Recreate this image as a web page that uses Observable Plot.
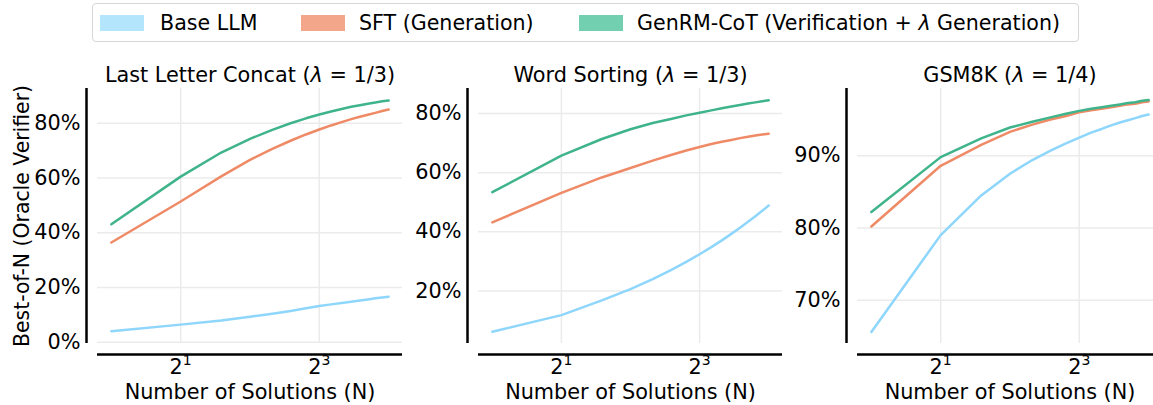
<!DOCTYPE html>
<html>
<head>
<meta charset="utf-8">
<script src="https://cdn.jsdelivr.net/npm/d3@7"></script>
<script src="https://cdn.jsdelivr.net/npm/@observablehq/plot@0.6"></script>
<style>
  body { margin: 0; background: #fff; }
  #root { position: relative; width: 1153px; height: 405px; overflow: hidden; font-family: "DejaVu Sans", sans-serif; color: #000; }
  #root svg { position: absolute; top: 0; overflow: visible; }
  .legend { position: absolute; left: 92px; top: 3px; width: 985px; height: 37px; border: 1px solid #d6d6d6; border-radius: 4px; background: #fff; }
  .patch { position: absolute; top: 11px; width: 44px; height: 16px; }
  .ltext { position: absolute; top: 9px; font-size: 20.6px; line-height: 20px; white-space: nowrap; }
</style>
</head>
<body>
<div id="root"></div>
<script>
// ---- data ----
const N = [1, 2, 3, 4, 5, 6, 7, 8, 9, 10, 11, 12, 13, 14, 15, 16];
const seriesNames = ["Base LLM", "SFT (Generation)", "GenRM-CoT (Verification + λ Generation)"];
const lineColors = ["#8ed6fb", "#ef8a66", "#3fb48b"];
const patchColors = ["#b3e5fc", "#f4a68b", "#72cfb0"];

const lastLetterBase  = [4.0, 6.4, 7.9, 9.3, 10.4, 11.4, 12.4, 13.2, 13.8, 14.3, 14.8, 15.2, 15.6, 16.0, 16.3, 16.6];
const lastLetterSFT   = [36.4, 51.4, 60.6, 66.6, 70.6, 73.6, 75.9, 77.7, 79.2, 80.4, 81.5, 82.4, 83.1, 83.8, 84.5, 85.0];
const lastLetterGenRM = [43.1, 60.5, 69.3, 74.3, 77.6, 80.0, 81.8, 83.2, 84.3, 85.2, 86.0, 86.6, 87.1, 87.6, 88.0, 88.3];

const wordSortBase  = [6.2, 11.8, 16.8, 20.6, 24.0, 27.0, 29.8, 32.4, 34.8, 37.1, 39.3, 41.4, 43.4, 45.3, 47.1, 48.9];
const wordSortSFT   = [43.2, 53.2, 58.4, 61.6, 64.1, 66.0, 67.5, 68.7, 69.7, 70.5, 71.1, 71.7, 72.2, 72.6, 72.9, 73.2];
const wordSortGenRM = [53.4, 65.8, 71.4, 74.7, 76.8, 78.2, 79.4, 80.3, 81.1, 81.8, 82.4, 82.9, 83.4, 83.8, 84.2, 84.5];

const gsmBase  = [65.6, 79.0, 84.5, 87.5, 89.4, 90.7, 91.7, 92.5, 93.2, 93.7, 94.2, 94.6, 94.9, 95.2, 95.5, 95.7];
const gsmSFT   = [80.2, 88.6, 91.5, 93.3, 94.3, 95.0, 95.5, 96.0, 96.3, 96.5, 96.7, 96.9, 97.1, 97.2, 97.4, 97.5];
const gsmGenRM = [82.2, 89.8, 92.4, 93.9, 94.7, 95.3, 95.8, 96.2, 96.5, 96.7, 96.9, 97.1, 97.3, 97.4, 97.6, 97.7];

const xTicks = [2, 8];
const xLabel = "Number of Solutions (N)";
const yLabel = "Best-of-N (Oracle Verifier)";

const panels = [
  { title: "Last Letter Concat (λ = 1/3)", series: [lastLetterBase, lastLetterSFT, lastLetterGenRM],
    yDomain: [-0.5, 92.7], yTicks: [0, 20, 40, 60, 80], left: 0, width: 410, marginLeft: 97, showYLabel: true },
  { title: "Word Sorting (λ = 1/3)", series: [wordSortBase, wordSortSFT, wordSortGenRM],
    yDomain: [2.2, 88.5], yTicks: [20, 40, 60, 80], left: 410, width: 380, marginLeft: 68 },
  { title: "GSM8K (λ = 1/4)", series: [gsmBase, gsmSFT, gsmGenRM],
    yDomain: [64.0, 99.3], yTicks: [70, 80, 90], left: 790, width: 380, marginLeft: 67 }
];

const root = document.getElementById("root");

// legend
const legend = document.createElement("div");
legend.className = "legend";
root.appendChild(legend);
const patchX = [7, 208, 486];
const textX = [67, 266, 544];
seriesNames.forEach((name, i) => {
  const p = document.createElement("div");
  p.className = "patch";
  p.style.left = patchX[i] + "px";
  p.style.background = patchColors[i];
  legend.appendChild(p);
  const t = document.createElement("div");
  t.className = "ltext";
  t.style.left = textX[i] + "px";
  if (name.includes("λ")) {
    const parts = name.split("λ");
    t.innerHTML = parts[0] + "<i>λ</i>" + parts[1];
  } else t.textContent = name;
  legend.appendChild(t);
});

const xDomain = [Math.pow(2, -0.2), Math.pow(2, 4.2)];
const gridStyle = { stroke: "#ebebeb", strokeOpacity: 1, strokeWidth: 1.5 };

panels.forEach((p) => {
  const rows = [];
  p.series.forEach((vals, si) => vals.forEach((v, i) => rows.push({ n: N[i], v, s: seriesNames[si] })));
  const marks = [
    Plot.gridX(xTicks, gridStyle),
    Plot.gridY(p.yTicks, gridStyle),
    Plot.ruleX([xDomain[0]], { dx: -11, stroke: "black", strokeWidth: 2.5 }),
    Plot.ruleY([p.yDomain[0]], { dy: 11, stroke: "black", strokeWidth: 2.5 }),
    Plot.axisX(xTicks, { tickSize: 0, tickPadding: 16, tickFormat: d => "2^" + Math.round(Math.log2(d)), label: null }),
    Plot.axisY(p.yTicks, { tickSize: 0, tickPadding: 17, tickFormat: d => d + "%", label: null }),
    Plot.line(rows, { x: "n", y: "v", z: "s", stroke: "s", strokeWidth: 2.5 }),
    Plot.text([p.title], { text: d => d, frameAnchor: "top", lineAnchor: "bottom", textAnchor: "middle", dy: -7 }),
    Plot.text([xLabel], { text: d => d, frameAnchor: "bottom", lineAnchor: "bottom", textAnchor: "middle", dy: 55 })
  ];
  if (p.showYLabel) {
    marks.push(Plot.text([yLabel], { text: d => d, frameAnchor: "left", rotate: -90, lineAnchor: "bottom", textAnchor: "middle", dx: -69, fontSize: 20.4 }));
  }
  const svg = Plot.plot({
    width: p.width,
    height: 405,
    marginLeft: p.marginLeft,
    marginRight: 8,
    marginTop: 88,
    marginBottom: 62,
    style: { fontFamily: "DejaVu Sans", fontSize: "20.8px", color: "black", background: "transparent", overflow: "visible" },
    x: { type: "log", base: 2, domain: xDomain },
    y: { domain: p.yDomain },
    color: { domain: seriesNames, range: lineColors },
    marks
  });
  svg.style.left = p.left + "px";
  // superscripts on x tick labels, italic lambda in titles
  svg.querySelectorAll("text").forEach(t => {
    const s = t.textContent;
    const m = /^2\^(\d+)$/.exec(s);
    if (m) {
      t.textContent = "";
      t.appendChild(document.createTextNode("2"));
      const sup = document.createElementNS("http://www.w3.org/2000/svg", "tspan");
      sup.setAttribute("font-size", "14");
      sup.setAttribute("dy", "-9");
      sup.textContent = m[1];
      t.appendChild(sup);
    } else if (s.includes("λ") && t.childElementCount === 0) {
      const parts = s.split("λ");
      t.textContent = "";
      t.appendChild(document.createTextNode(parts[0]));
      const it = document.createElementNS("http://www.w3.org/2000/svg", "tspan");
      it.setAttribute("font-style", "italic");
      it.textContent = "λ";
      t.appendChild(it);
      t.appendChild(document.createTextNode(parts[1]));
    }
  });
  root.appendChild(svg);
});
</script>
</body>
</html>
